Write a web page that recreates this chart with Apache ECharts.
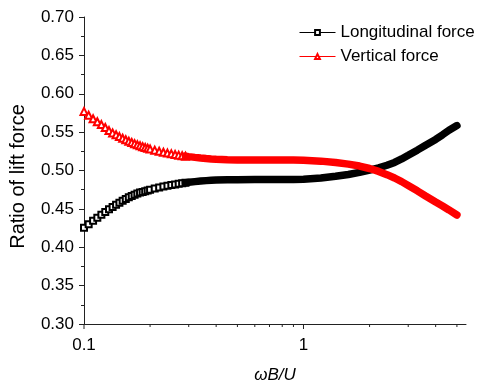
<!DOCTYPE html>
<html>
<head>
<meta charset="utf-8">
<script src="https://cdn.jsdelivr.net/npm/echarts@6/dist/echarts.min.js"></script>
<style>
html,body{margin:0;padding:0;background:#fff;}
#c{width:479px;height:389px;}
</style>
</head>
<body>
<div id="c"></div>
<script>
// x values (ωB/U)
const xVals = [0.100,0.105,0.110,0.115,0.120,0.125,0.130,0.135,0.140,0.145,0.150,0.155,0.160,0.165,0.170,0.175,0.180,0.185,0.190,0.195,0.200,
  0.21,0.22,0.23,0.24,0.25,0.26,0.27,0.28,0.29,0.30,0.32,0.34,0.36,0.38,0.40,0.45,0.5,0.6,0.7,0.8,0.9,1.0,
  1.2,1.4,1.6,1.8,2.0,2.2,2.4,2.6,2.8,3.0,3.3,3.6,4.0,4.3,4.6,5.0];
const longitudinal = [0.4255,0.4300,0.4345,0.4385,0.4425,0.4460,0.4495,0.4525,0.4555,0.4580,0.4605,0.4628,0.4650,0.4668,0.4685,0.4700,0.4712,0.4720,0.4731,0.4741,0.4750,
  0.4765,0.4778,0.4790,0.4801,0.4810,0.4819,0.4827,0.4834,0.4840,0.4846,0.4855,0.4862,0.4868,0.4872,0.4875,0.4879,0.4881,0.4882,0.4882,0.4882,0.4883,0.4886,
  0.4903,0.4925,0.4948,0.4975,0.5005,0.5035,0.5068,0.5105,0.5150,0.5198,0.5265,0.5330,0.5405,0.5465,0.5525,0.5585];
const vertical = [0.5770,0.5720,0.5675,0.5635,0.5598,0.5560,0.5520,0.5490,0.5465,0.5442,0.5420,0.5400,0.5382,0.5365,0.5350,0.5336,0.5323,0.5311,0.5300,0.5290,0.5281,
  0.5265,0.5251,0.5238,0.5227,0.5217,0.5208,0.5200,0.5193,0.5187,0.5181,0.5171,0.5163,0.5156,0.5151,0.5147,0.5141,0.5138,0.5136,0.5137,0.5138,0.5137,0.5134,
  0.5122,0.5104,0.5083,0.5058,0.5026,0.4988,0.4946,0.4902,0.4855,0.4805,0.4735,0.4668,0.4590,0.4538,0.4486,0.4420];
const seriesNames = ['Longitudinal force','Vertical force'];
const xTickVals = [0.1,0.2,0.3,0.4,0.5,0.6,0.7,0.8,0.9,1,2,3,4,5];
const xMajorTicks = [0.1,1];
const yMin = 0.30, yMax = 0.70, yStep = 0.05;
const xMin = 0.1, xMax = 5.5;
const bandFrom = 0.3;

// markers only where the original markers are still distinguishable; dense part drawn as a solid band
const pairs = (ys) => xVals.map((x,i)=> x >= bandFrom ? {value:[x, ys[i]], symbol:'none'} : {value:[x, ys[i]]});
const band = (ys) => xVals.map((x,i)=>[x, ys[i]]).filter(p=>p[0] >= bandFrom - 0.01);

const FONT = 'Liberation Sans, Arial, sans-serif';
const chart = echarts.init(document.getElementById('c'), null, {renderer:'canvas'});
chart.setOption({
  animation:false,
  backgroundColor:'#fff',
  grid:{left:81, right:13, top:17, bottom:59, containLabel:false},
  legend:{
    data:seriesNames, orient:'vertical', left:299, top:24, padding:0, align:'left',
    itemWidth:36, itemHeight:6, itemGap:7,
    lineStyle:{width:1},
    textStyle:{fontFamily:FONT, fontSize:17, color:'#000', lineHeight:16}
  },
  xAxis:{
    type:'log', logBase:10, min:xMin, max:xMax,
    name:'ωB/U', nameLocation:'middle', nameGap:43,
    nameTextStyle:{fontFamily:FONT, fontSize:17, fontStyle:'italic', color:'#000'},
    axisLine:{show:true, onZero:false, lineStyle:{color:'#222', width:1}},
    axisTick:{show:false},
    minorTick:{show:false},
    splitLine:{show:false},
    axisLabel:{
      fontFamily:FONT, fontSize:17, color:'#000', margin:13, showMaxLabel:false,
      formatter:(v)=>{ const l=Math.log10(v); return (Math.abs(l-Math.round(l))<1e-6 && v<=1.0001) ? (v<1? '0.1':'1') : ''; }
    }
  },
  yAxis:{
    type:'value', min:yMin, max:yMax, interval:yStep,
    name:'Ratio of lift force', nameLocation:'middle', nameGap:56,
    nameTextStyle:{fontFamily:FONT, fontSize:20, color:'#000', padding:[0,12,0,0]},
    axisLine:{show:true, lineStyle:{color:'#222', width:1}},
    axisTick:{show:true, length:5, lineStyle:{color:'#222'}},
    minorTick:{show:true, splitNumber:2, length:3, lineStyle:{color:'#222'}},
    splitLine:{show:false},
    axisLabel:{fontFamily:FONT, fontSize:17, color:'#000', margin:10, formatter:(v)=>v.toFixed(2)}
  },
  series:[
    {name:seriesNames[0], type:'line', data:pairs(longitudinal), symbol:'emptyRect', symbolSize:6,
     color:'#000', lineStyle:{width:1, color:'#000'}, itemStyle:{color:'#000', borderWidth:1}, z:3},
    {name:seriesNames[1], type:'line', data:pairs(vertical), symbol:'emptyTriangle', symbolSize:7,
     color:'#ff0000', lineStyle:{width:1, color:'#ff0000'}, itemStyle:{color:'#ff0000', borderWidth:1}, z:3},
    {name:'band1', type:'line', data:band(longitudinal), showSymbol:false, symbol:'none',
     lineStyle:{width:7.5, color:'#000', cap:'round'}, z:4, silent:true},
    {name:'band2', type:'line', data:band(vertical), showSymbol:false, symbol:'none',
     lineStyle:{width:7.5, color:'#ff0000', cap:'round'}, z:5, silent:true},
    {name:'xticks', type:'custom', clip:false, silent:true, z:6,
     data:xTickVals.map(v=>[v, yMin]),
     renderItem:(params, api)=>{
       const v = api.value(0);
       const p = api.coord([v, yMin]);
       const len = xMajorTicks.indexOf(v) >= 0 ? 5 : 3;
       return {type:'line', shape:{x1:p[0], y1:p[1], x2:p[0], y2:p[1]+len}, style:{stroke:'#222', lineWidth:1}};
     }}
  ]
});
</script>
</body>
</html>
